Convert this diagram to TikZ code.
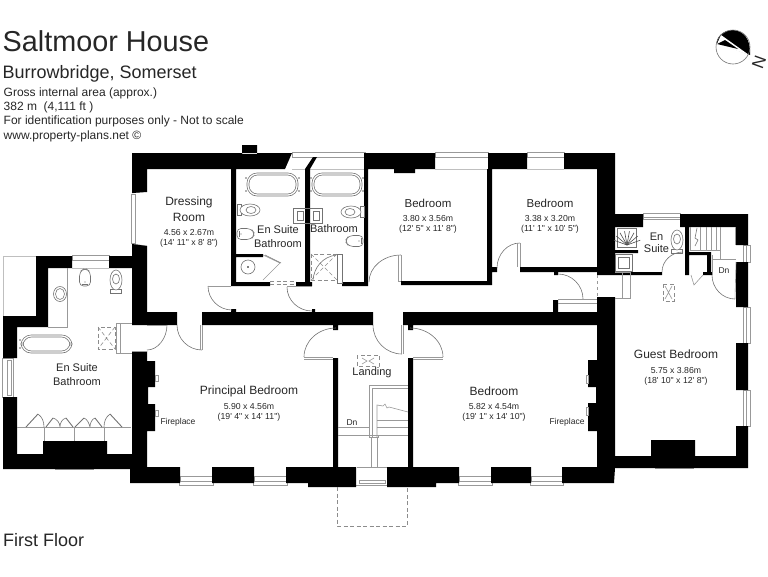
\documentclass[tikz,border=0pt]{standalone}
\usepackage{fontspec}
\newfontfamily\lab{Liberation Sans}
\definecolor{ink}{HTML}{262626}
\tikzset{
  thinln/.style={draw=black!55,line width=.6pt},
  paleln/.style={draw=black!40,line width=.6pt},
  dashln/.style={draw=black!45,line width=.6pt,dash pattern=on 4pt off 2.5pt},
  txt/.style={inner sep=0pt,text=ink,font=\lab\fontsize{#1}{#1}\selectfont},
  head/.style={inner sep=0pt,text=ink,anchor=base west,font=\lab\fontsize{#1}{#1}\selectfont}
}
\newcommand\arcH[4]{\draw[thinln] (#1,#2) .. controls ({#1+.55*(#3-#1)},#2) and (#3,{#4-.55*(#4-#2)}) .. (#3,#4);}
\newcommand\winS[2]{\draw[paleln] (#1,476) rectangle (#2,481); \draw[paleln] ({#1-1},483) -- ({#1-1},485) -- ({#2+1},485) -- ({#2+1},483);}
\newcommand\winT[2]{\draw[paleln] (#1,152) rectangle (#2,157); \draw[paleln,black!25] (#1,169) -- (#2,169);}
\newcommand\winE[2]{\draw[paleln] (743,#1) rectangle (750,#2); \draw[paleln] (746,#1) -- (746,#2);}
\newcommand\bathtub[4]{\draw[thinln,rounded corners=10pt] (#1,#2) rectangle (#3,#4);
  \draw[thinln,rounded corners=8.5pt] ({#1+2},{#2+2}) rectangle ({#3-2},{#4-2});}
\newcommand\wc[3]{\begin{scope}[shift={(#1,#2)},rotate=#3]
  \draw[thinln] (-12,-5.5) rectangle (-8,5.5);
  \draw[thinln,fill=white] (1,0) ellipse (10 and 6);
  \draw[thinln] (2,0) ellipse (5 and 3.5);
  \end{scope}}
\newcommand\bidet[3]{\begin{scope}[shift={(#1,#2)},rotate=#3]
  \draw[thinln,rounded corners=4pt] (-9,-5.5) -- (5,-5.5) -- (9,0) -- (5,5.5) -- (-9,5.5) -- cycle;
  \draw[thinln] (-7,-3) -- (-7,3);
  \fill[black!60] (-5,0) circle (.7);
  \end{scope}}
\begin{document}
\begin{tikzpicture}[x=1pt,y=-1pt]
\useasboundingbox (0,0) rectangle (768,576);
% pale outline west of the wing
\draw[paleln,black!25] (3,316) -- (3,256) -- (36,256);
% windows
\winT{292}{365}\winT{435}{488}\winT{527}{564}
\draw[paleln] (643,217) -- (680,217); \draw[paleln] (643,213) rectangle (680,219);
\draw[paleln] (72,255) rectangle (109,260); \draw[paleln,black!25] (72,268) -- (109,268);
\winS{180}{212}\winS{254}{286}\winS{459}{491}\winS{531}{562}
\draw[paleln] (359,480) rectangle (385,483); \draw[paleln] (356,485) -- (388,485); \draw[paleln] (357,467) -- (387,467);
\winE{245}{262}\winE{307}{343}\winE{390}{426}
\draw[paleln] (2,358) rectangle (13,397); \draw[paleln] (7,360) rectangle (11,395);
\draw[paleln] (131,194) rectangle (135,243); \draw[paleln] (132,193) -- (147,191); \draw[paleln] (132,244) -- (147,246);
\draw[paleln] (55,469) -- (94,469);
\draw[paleln] (655,468) -- (694,468);
% walls
\fill[black]
  (132,153) -- (292,153) -- (285,169) -- (147,169) -- (147,192) -- (132,193) -- cycle
  (242,145) rectangle (257,154)
  (132,244) -- (147,246) -- (147,312) -- (177,312) -- (177,325) -- (132,325) -- cycle
  (364,153) -- (435,153) -- (435,169) -- (415,169) -- (415,173) -- (394,173) -- (394,169) -- (364,169) -- cycle
  (488,153) rectangle (527,169)
  (564,153) -- (615,153) -- (615,275) -- (597,275) -- (597,169) -- (564,169) -- cycle
  (36,256) -- (72,256) -- (72,268) -- (48,268) -- (48,327) -- (17,327) -- (17,358) -- (3,358) -- (3,316) -- (36,316) -- cycle
  (109,256) rectangle (132,268)
  (3,397) -- (17,397) -- (17,454) -- (43,454) -- (43,441) -- (107,441) -- (107,454) -- (132,454) -- (132,351) -- (147,351) -- (147,361) -- (155,361) -- (155,387) -- (148,387) -- (148,404) -- (155,404) -- (155,431) -- (147,431) -- (147,467) -- (180,467) -- (180,483) -- (130,483) -- (130,469) -- (3,469) -- cycle
  (212,467) rectangle (254,483)
  (286,467) -- (356,467) -- (356,487) -- (308,487) -- (308,483) -- (286,483) -- cycle
  (387,467) -- (459,467) -- (459,483) -- (436,483) -- (436,487) -- (387,487) -- cycle
  (491,467) rectangle (531,483)
  (597,297) -- (615,297) -- (615,456) -- (651,456) -- (651,440) -- (695,440) -- (695,456) -- (736,456) -- (736,426) -- (748,426) -- (748,468) -- (615,468) -- (614,483) -- (562,483) -- (562,467) -- (597,467) -- (597,431) -- (588,431) -- (588,403) -- (596,403) -- (596,387) -- (588,387) -- (588,360) -- (597,360) -- (597,325) -- (403,325) -- (403,312) -- (597,312) -- cycle
  (202,312) rectangle (373,325)
  (615,214) rectangle (643,227)
  (680,214) -- (748,214) -- (748,245) -- (736,245) -- (736,227) -- (680,227) -- cycle
  (736,262) rectangle (748,307)
  (736,343) rectangle (748,390)
  % thin partitions
  (231,169) rectangle (236,286)
  (231,282) rectangle (270,286)
  (296,282) rectangle (312,286)
  (305,169) rectangle (310,286)
  (305,169) -- (310,169) -- (317,157) -- (313,157) -- cycle
  (342,282) rectangle (368,286)
  (364,169) rectangle (368,286)
  (236,254) rectangle (263,257)
  (487,169) rectangle (492,285)
  (401,281) rectangle (492,285)
  (492,267) rectangle (497,272)
  (520,267) rectangle (597,272)
  (554,272) rectangle (558,275)
  (553,300) rectangle (558,312)
  (231,309) rectangle (236,312)
  (312,309) rectangle (315,312)
  (333,325) rectangle (338,330)
  (408,325) rectangle (413,330)
  (333,358) rectangle (338,467)
  (408,358) rectangle (413,467)
  (615,250) rectangle (638,253)
  (615,272) rectangle (662,275)
  (685,227) rectangle (689,275)
  (689,252) rectangle (710,255)
  (707,252) rectangle (711,275)
  (703,272) rectangle (712,275);
% fireplace details
\draw[paleln] (155,375) rectangle (158,381); \draw[paleln] (155,410) rectangle (158,416);
\draw[paleln] (586,375) rectangle (588,383); \draw[paleln] (586,407) rectangle (588,415);
% doors
\arcH{401}{255}{369}{282}
\draw[paleln] (401,255) -- (401,281); \draw[paleln] (398,255) -- (398,281) -- (401,281);
\arcH{520}{243}{497}{268}
\draw[paleln] (520,243) -- (520,267); \draw[paleln] (517,243) -- (517,267);
\arcH{558}{274}{583}{299}
\draw[paleln] (558,299) -- (597,299); \draw[paleln] (558,303) -- (597,303);
\draw[paleln,dashed] (597,275) -- (597,297);
\draw[paleln] (615,272) -- (630,272) -- (630,298) -- (615,298); \draw[paleln] (622,272) -- (622,298);
\arcH{232}{310}{208}{286}
\draw[paleln] (208,286) -- (231,286);
\arcH{312}{311}{287}{287}
\draw[paleln] (287,286) -- (312,286);
\draw[dashln] (270,284) -- (296,284); \draw[dashln] (270,281) -- (296,281);
\draw[paleln] (263,255) -- (280,263) -- (263,280);
\draw[thinln] (265,255) -- (281,263);
\draw[paleln] (147,351) -- (132,351);
\draw[thinln] (147,350) .. controls (158,350) and (167,338) .. (167,325);
\draw[paleln] (147,325) -- (167,325);
\arcH{202}{350}{177}{325}
\draw[paleln] (202,325) -- (202,350);
\draw[paleln] (200,325) -- (200,350);
\arcH{336}{328}{304}{357}
\draw[paleln] (304,357) -- (333,357); \draw[paleln] (304,359) -- (333,359);
\arcH{410}{328}{443}{357}
\draw[paleln] (413,357) -- (443,357); \draw[paleln] (413,359) -- (443,359);
\arcH{402}{354}{373}{325}
\draw[paleln] (403,325) -- (403,354); \draw[paleln] (401,325) -- (401,354);
% bath fixtures
\bathtub{247}{173}{298}{196}
\bathtub{312}{173}{362}{196}
\bathtub{21}{335}{72}{353}
\foreach \yy/\xx in {178/246,191/246,178/299,191/299,178/311,191/311,178/363,191/363,340/20,348/20}
  \fill[black!60] (\xx,\yy) circle (.8);
\wc{249}{210}{0}
\wc{352}{212}{180}
\bidet{246}{234}{0}
\bidet{354}{241}{180}
\wc{116}{281}{90}
\bidet{85}{277}{90}
\draw[thinln] (248,267) circle (7); \fill[black] (248,267) circle (.8);
\draw[thinln] (293,208) rectangle (322,223);
\draw[thinln] (297,211) rectangle (303,220); \draw[thinln] (313,211) rectangle (319,220);
\draw[dashln] (311,254) rectangle (337,280);
\draw[dashln] (311,254) -- (337,280) (337,254) -- (311,280);
\draw[thinln] (337,254) rectangle (342,283);
\draw[thinln] (336,255) .. controls (322,257) and (314,268) .. (313,280);
\draw[thinln] (60,294) ellipse (6.5 and 7.5); \draw[thinln] (60,294) ellipse (4.5 and 5.5);
\draw[paleln] (67,268) -- (67,327) -- (48,327);
\draw[dashln] (98,327) rectangle (115,349);
\draw[dashln] (98,327) -- (115,349) (115,327) -- (98,349);
\draw[paleln] (132,323) -- (116,323) -- (116,353) -- (132,353); \draw[paleln] (120,323) -- (120,353);
% wardrobes
\draw[paleln] (17,427) -- (131,427);
\draw[paleln] (44,427) -- (44,441) (74,427) -- (74,441) (104,427) -- (104,441);
\draw[thinln,line width=.9pt] (26,427) -- (38,414) (122,427) -- (110,414);
\draw[thinln] (38,414) .. controls (42,417) and (44,421) .. (44,427);
\draw[thinln] (110,414) .. controls (106,417) and (104,421) .. (104,427);
\draw[thinln,line width=.9pt] (46,427) -- (53,418) (73,427) -- (66,418) (75,427) -- (84,418) (102,427) -- (95,418);
\draw[thinln] (53,418) .. controls (57,419) and (60,423) .. (60,427) (66,418) .. controls (62,419) and (60,423) .. (60,427);
\draw[thinln] (84,418) .. controls (87,419) and (89,423) .. (90,427) (95,418) .. controls (92,419) and (90,423) .. (90,427);
% landing
\draw[dashln] (357,355) rectangle (379,366);
\draw[paleln] (362,358) -- (367,361) -- (362,364) (374,358) -- (369,361) -- (374,364);
\draw[paleln] (369,437) -- (369,385) -- (408,385) (372,437) -- (372,388) -- (408,388);
\draw[paleln] (369,437) rectangle (378,435);
\draw[paleln] (371,437) -- (371,467) (377,437) -- (377,467);
\draw[paleln] (377,437) -- (377,405) -- (383,406) -- (385,404) -- (387,408) -- (389,407) -- (408,412);
\draw[paleln] (377,420) -- (408,420) (377,427) -- (408,427) (377,435) -- (408,435);
\draw[paleln] (338,427) -- (369,427) (338,435) -- (408,435);
\draw[dashln] (337,487) -- (337,526) -- (407,526) -- (407,487);
% guest en suite
\draw[thinln] (617,228) rectangle (636,247);
\foreach \a in {-70,-50,-30,-10,10,30,50,70}
  \draw[black!70,line width=.6pt] (627,245) -- ++({\a-90}:14);
\draw[thinln] (615,254) rectangle (632,271); \draw[thinln] (618,257) rectangle (629,268);
\wc{677}{241}{90}
\arcH{683}{252}{662}{272}
\draw[paleln] (691,275) -- (694,285) -- (703,275);
\draw[paleln] (690,227) -- (690,250) (700,227) -- (700,250) (706,227) -- (706,250) (711,227) -- (711,250) (716,227) -- (716,250) (720,227) -- (720,250);
\draw[paleln] (690,250) -- (720,250);
\draw[paleln] (735,227) -- (735,245);
\draw[thinln] (697,228) -- (695,238) -- (698,240) -- (695,246);
\draw[paleln] (712,259) -- (736,259) (712,255) -- (712,275);
\draw[paleln] (720,250) -- (720,259);
\arcH{735}{299}{712}{275}
\draw[paleln] (735,299) -- (736,262);
\draw[dashln] (663,284) rectangle (674,301);
\draw[paleln] (665,286) -- (672,299) (672,286) -- (665,299);
% compass
\begin{scope}
\fill[black] (716.6,43) .. controls (718,26) and (752,22) .. (750,55) -- cycle;
\fill[white] (721,35) -- (749,55) -- (717,44) -- cycle;
\fill[black] (717,44) -- (725,40) -- (738,49) -- cycle;
\draw[black!55,line width=.6pt] (733,47) circle (17);
\end{scope}
\node[txt=17,rotate=-110] (north) at (759,62) {N};
% headings
\node[head=28.8] (t1) at (2.5,51) {Saltmoor House};
\node[head=18] (t2) at (2.5,78) {Burrowbridge, Somerset};
\node[head=12] (t3) at (3.5,96) {Gross internal area (approx.)};
\node[head=12] (t4) at (3.5,110) {382 m\ \ (4,111 ft )};
\node[head=12] (t5) at (3.5,124.5) {For identification purposes only - Not to scale};
\node[head=12] (t6) at (3.5,139) {www.property-plans.net ©};
\node[head=18] (t7) at (3,546) {First Floor};
% rooms
\node[txt=12] (a1) at (189,202) {Dressing};
\node[txt=12] (a2) at (189,217) {Room};
\node[txt=8.7] (a3) at (189,232) {4.56 x 2.67m};
\node[txt=8.7] (a4) at (189,243.5) {(14' 11" x 8' 8")};
\node[txt=11] (b1) at (278,230) {En Suite};
\node[txt=11] (b2) at (278,244) {Bathroom};
\node[txt=11] (c1) at (334,229) {Bathroom};
\node[txt=11.5] (d1) at (428,203) {Bedroom};
\node[txt=8.7] (d2) at (428,219) {3.80 x 3.56m};
\node[txt=8.7] (d3) at (428,229.5) {(12' 5" x 11' 8")};
\node[txt=11.5] (e1) at (550,203) {Bedroom};
\node[txt=8.7] (e2) at (550,219) {3.38 x 3.20m};
\node[txt=8.7] (e3) at (550,229.5) {(11' 1" x 10' 5")};
\node[txt=11] (f1) at (656.5,237) {En};
\node[txt=11] (f2) at (656.5,249) {Suite};
\node[txt=8.5] (f3) at (724,271) {Dn};
\node[txt=11] (g1) at (77,368) {En Suite};
\node[txt=11] (g2) at (77,382) {Bathroom};
\node[txt=12] (h1) at (249,391) {Principal Bedroom};
\node[txt=8.7] (h2) at (249,406) {5.90 x 4.56m};
\node[txt=8.7] (h3) at (249,417) {(19' 4" x 14' 11")};
\node[txt=8.5] (h4) at (178,422) {Fireplace};
\node[txt=11] (i1) at (372,373) {Landing};
\node[txt=8.5] (i2) at (352,423) {Dn};
\node[txt=12] (j1) at (494,391) {Bedroom};
\node[txt=8.7] (j2) at (494,406) {5.82 x 4.54m};
\node[txt=8.7] (j3) at (494,417) {(19' 1" x 14' 10")};
\node[txt=8.5] (j4) at (567,422) {Fireplace};
\node[txt=12] (k1) at (676,354) {Guest Bedroom};
\node[txt=8.7] (k2) at (676,370) {5.75 x 3.86m};
\node[txt=8.7] (k3) at (676,381) {(18' 10" x 12' 8")};
\end{tikzpicture}
\end{document}
